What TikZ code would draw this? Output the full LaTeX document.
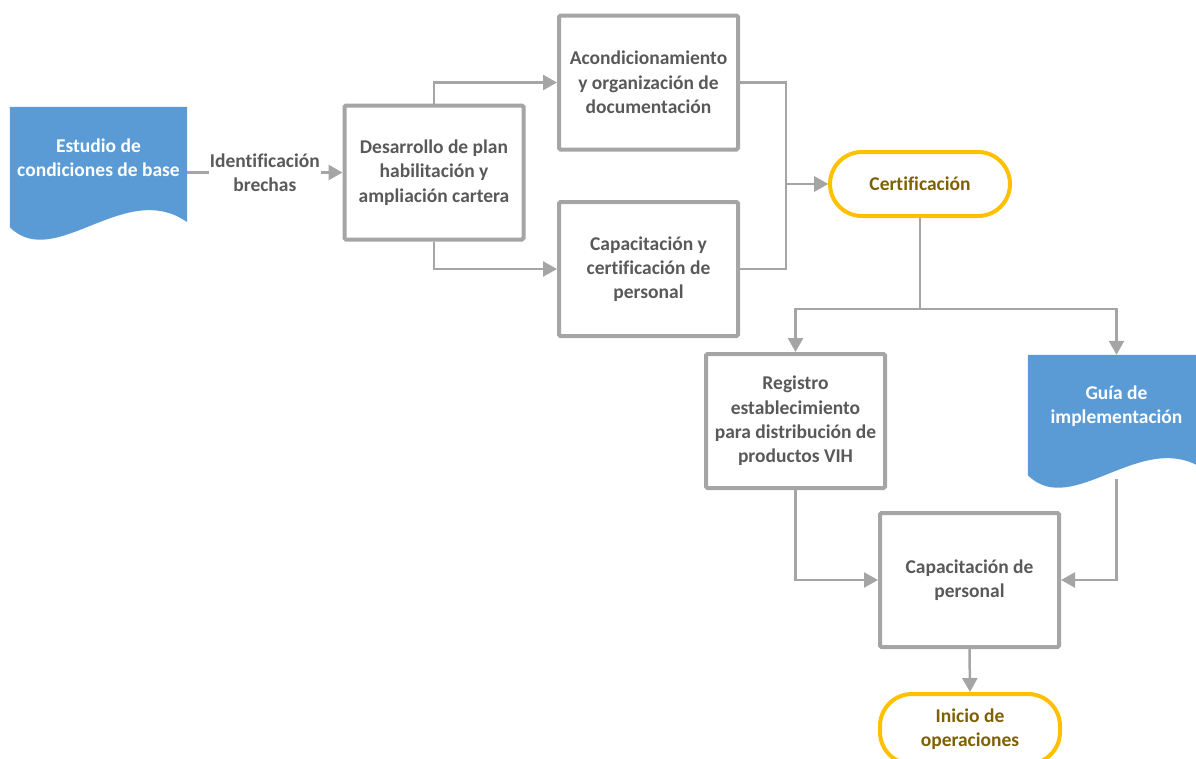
\documentclass[tikz,border=0pt]{standalone}
\usepackage{fontspec}
\setmainfont[Ligatures=NoCommon]{Carlito}
\usetikzlibrary{arrows.meta,calc,backgrounds}

\definecolor{linegray}{HTML}{A5A5A5}
\definecolor{textgray}{HTML}{595959}
\definecolor{docblue}{HTML}{5B9BD5}
\definecolor{termgold}{HTML}{FFC000}
\definecolor{termtext}{HTML}{7F6000}

% blue document shape behind a node
\newcommand\docwave[1]{%
  \begin{scope}[on background layer]
    \fill[docblue] (#1.north west) -- (#1.north east) -- ($(#1.south east)+(0,13)$)
      .. controls ($(#1.south east)+(-62,-31)$) and ($(#1.south west)+(45,63)$) .. ($(#1.south west)+(0,18)$) -- cycle;
  \end{scope}}

\begin{document}
\begin{tikzpicture}[x=1pt,y=-1pt,every node/.style={font=\bfseries\fontsize{19.5}{24.3}\selectfont, align=center}]
  \tikzstyle{box}=[draw=linegray, line width=4pt, rounded corners=1.5pt, minimum width=179pt, minimum height=134pt, text=textgray]
  \tikzstyle{doc}=[minimum width=177pt, minimum height=102pt, text=white, inner sep=0pt]
  \tikzstyle{term}=[draw=termgold, line width=4pt, rounded corners=32pt, minimum width=180pt, minimum height=64pt, text=termtext]
  \tikzstyle{conn}=[draw=linegray, line width=2.5pt, -{Triangle[length=14pt,width=15pt]}]

\useasboundingbox (0,0) rectangle (1196,758);

\node [doc] (estudio) at (98.5,158) {Estudio de\\condiciones de base};
\node [box] (plan) at (434,172.5) {Desarrollo de plan\\habilitación y\\ampliación cartera};
\node [box] (acond) at (648.5,82.5) {Acondicionamiento\\y organización de\\documentación};
\node [box] (capcert) at (648.5,269) {Capacitación y\\certificación de\\personal};
\node [term] (cert) at (920,184) {Certificación};
\node [box] (registro) at (795.5,421) {Registro\\establecimiento\\para distribución de\\productos VIH};
\node [doc] (guia) at (1116.5,406) {Guía de\\implementación};
\node [box] (capper) at (969.5,580) {Capacitación de\\personal};
\node [term, minimum height=70pt] (inicio) at (970,729) {Inicio de\\operaciones};

\docwave{estudio}
\docwave{guia}

\draw[conn] (estudio.east |- plan.west) -- node (brechas) [midway, fill=white, text=textgray, inner sep=1pt] {Identificación\\brechas} (plan.west);

\draw[conn] (plan.north) |- (acond.west);
\draw[conn] (plan.south) |- (capcert.west);

\draw[conn] (acond.east) -- ++(46,0) |- (cert.west);
\draw[conn] (capcert.east) -- ++(46,0) |- (cert.west);

\draw[conn] (cert.south) -- ++(0,91) -| (registro.north);
\draw[conn] (cert.south) -- ++(0,91) -| (guia.north);

\draw[conn] (registro.south) |- (capper.west);
\draw[conn] ($(guia.south)+(0,22)$) |- (capper.east);
\draw[conn] (capper.south) -- (inicio.north);

\end{tikzpicture}
\end{document}
